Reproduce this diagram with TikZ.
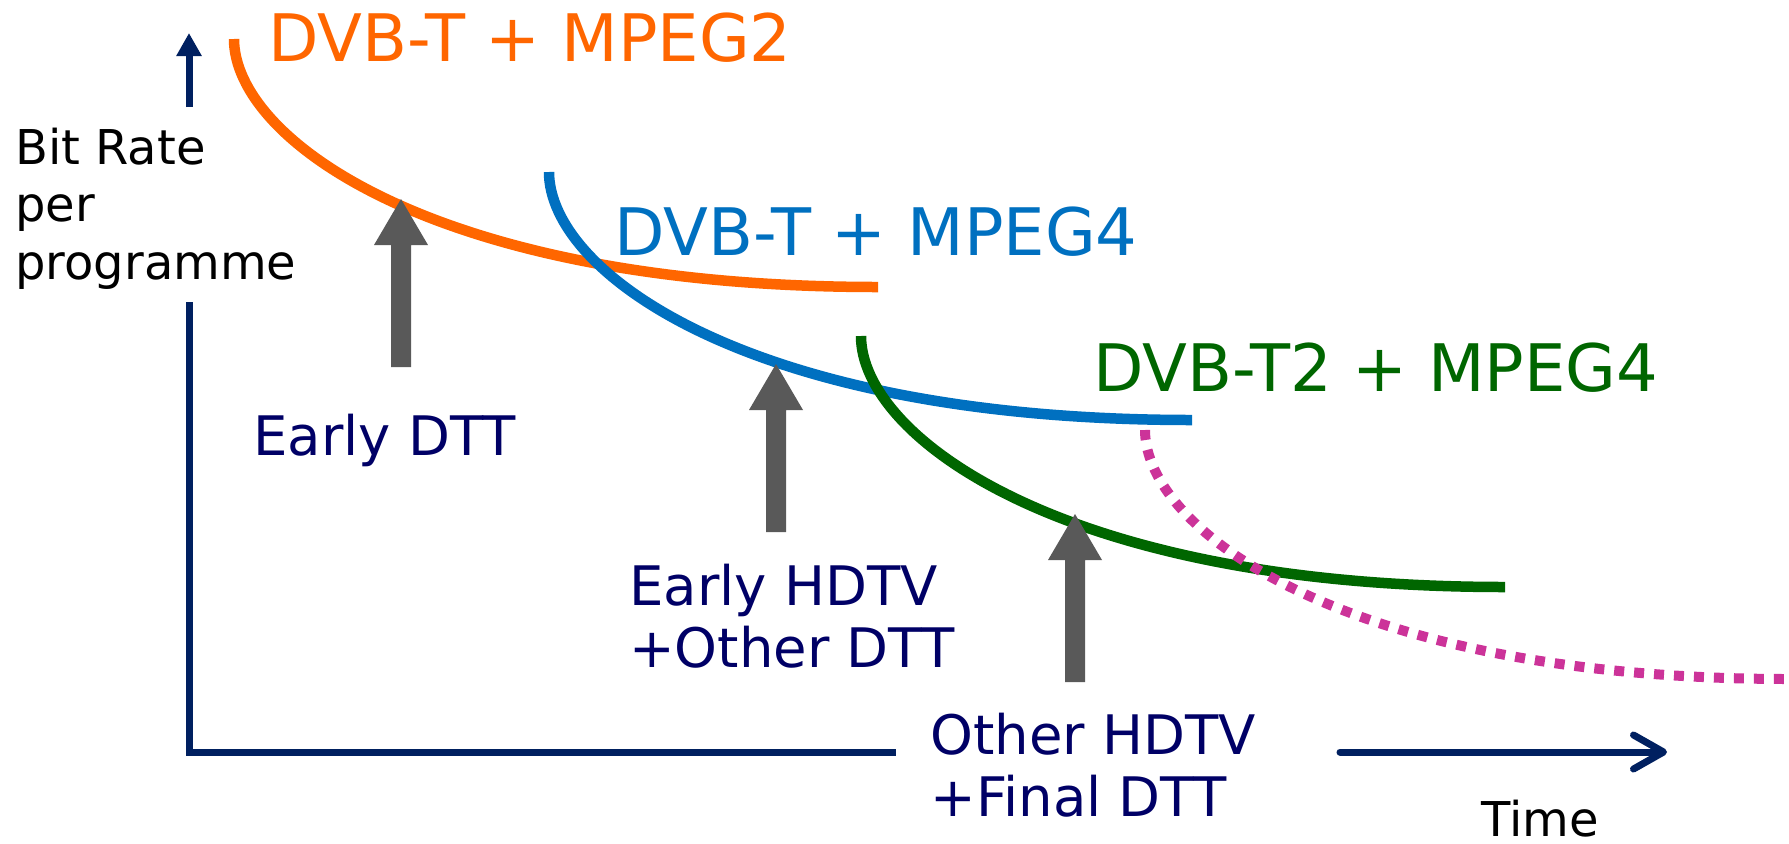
\documentclass[tikz,border=0pt]{standalone}
\usepackage{fontspec}
\setmainfont{DejaVu Sans}
\usetikzlibrary{arrows.meta,calc}
\definecolor{axisblue}{RGB}{0,32,96}
\definecolor{navy}{RGB}{0,0,102}
\definecolor{orangec}{RGB}{255,102,0}
\definecolor{bluec}{RGB}{0,112,192}
\definecolor{greenc}{RGB}{0,102,0}
\definecolor{magentac}{RGB}{204,51,153}
\definecolor{greyarrow}{RGB}{89,89,89}
\begin{document}
\begin{tikzpicture}[x=0.02cm,y=-0.02cm,
  curve/.style={line width=0.21cm},
  axisline/.style={draw=axisblue,line width=0.14cm},
  big/.style={font=\fontsize{37.3}{41}\selectfont, anchor=base west, inner sep=0pt},
  mid/.style={font=\fontsize{31}{35.7}\selectfont, anchor=base west, inner sep=0pt, text=navy},
  small/.style={font=\fontsize{27.3}{32.9}\selectfont, anchor=base west, inner sep=0pt, text=black},
  pics/blockarrow/.style={code={
    \fill[greyarrow] (-10,0) -- (-10,-122) -- (-27,-122) -- (0,-168) -- (27,-122) -- (10,-122) -- (10,0) -- cycle;}}
]
\useasboundingbox[fill=white] (0,0) rectangle (1789,843);

% axes
\coordinate (O) at (189,752);
\coordinate (ylow) at (189,302);
\coordinate (yup) at (189,107);
\coordinate (ytip) at (189,33);
\coordinate (xgapL) at (896,752);
\coordinate (xgapR) at (1340,752);
\coordinate (xtip) at (1667,752);
\draw[axisline] (ylow) -- (O) -- (xgapL);
\draw[axisline,-{Triangle[length=0.46cm,width=0.48cm]}] (yup) -- (ytip);
\draw[axisline,line cap=round,-{Straight Barb[length=0.6cm,width=0.68cm,round]}] (xgapR) -- (xtip);

% curves
\coordinate (o1) at (234,39);  \coordinate (o2) at (878,287);
\coordinate (b1) at (549,172); \coordinate (b2) at (1192,420);
\coordinate (g1) at (861,336); \coordinate (g2) at (1505,587);
\coordinate (m1) at (1145,430); \coordinate (m2) at (1789,679);
\draw[curve,orangec] (o1) .. controls ($(o1)+(0,100)$) and ($(o2)+(-444,0)$) .. (o2);
\draw[curve,bluec] (b1) .. controls ($(b1)+(0,100)$) and ($(b2)+(-444,0)$) .. (b2);
\draw[curve,greenc] (g1) .. controls ($(g1)+(0,100)$) and ($(g2)+(-444,0)$) .. (g2);
\draw[curve,magentac,line width=0.2cm,dash pattern=on 0.2cm off 0.2cm] (m1) .. controls ($(m1)+(0,100)$) and ($(m2)+(-444,0)$) .. (m2);

% grey arrows
\pic at (401,367) {blockarrow};
\pic at (776,532) {blockarrow};
\pic at (1075,682) {blockarrow};

% labels
\node[big,text=orangec] (l1) at (268,61) {DVB-T + MPEG2};
\node[big,text=bluec] (l2) at (614,255) {DVB-T + MPEG4};
\node[big,text=greenc] (l3) at (1093,391) {DVB-T2 + MPEG4};
\node[mid] (e1) at (253,455) {Early DTT};
\node[mid] (e2) at (629,605) {\begin{tabular}[t]{@{}l@{}}Early HDTV\\+Other DTT\end{tabular}};
\node[mid] (e3) at (930,754) {\begin{tabular}[t]{@{}l@{}}Other HDTV\\+Final DTT\end{tabular}};
\node[small] (ylab) at (15,164) {\begin{tabular}[t]{@{}l@{}}Bit Rate\\per\\programme\end{tabular}};
\node[small] (xlab) at (1481,836) {Time};
\end{tikzpicture}
\end{document}
